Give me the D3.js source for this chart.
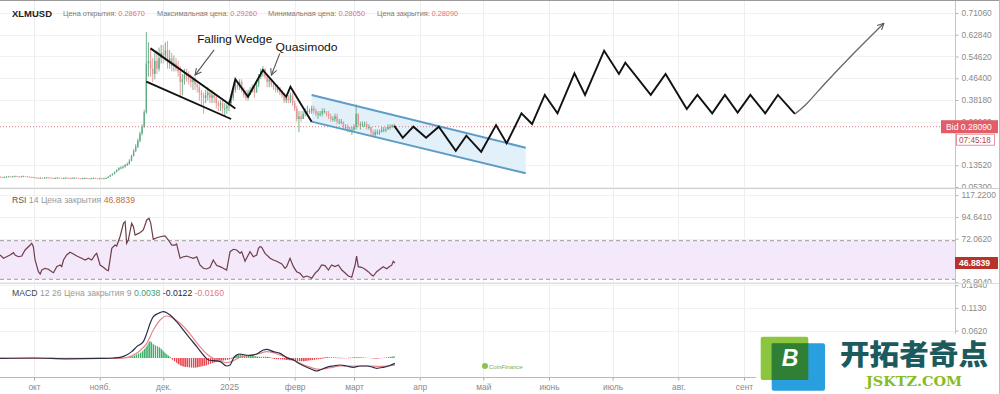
<!DOCTYPE html>
<html>
<head>
<meta charset="utf-8">
<script src="https://cdn.jsdelivr.net/npm/d3@7"></script>
<style>
    body { margin: 0; background: #fff; }
    svg { display: block; font-family: "Liberation Sans", Arial, sans-serif; }
</style>
</head>
<body>
<div id="chart"></div>
<script>
// daily candles [high, low, close], open = previous close
const firstOpen = 0.092;
const sep24 = [[.093,.090,.091],[.092,.089,.090],[.093,.089,.091],[.094,.090,.092],[.095,.091,.093],[.094,.091,.092],[.095,.091,.093],[.096,.092,.094],[.095,.092,.093],[.094,.091,.092],[.095,.091,.093],[.096,.092,.094],[.095,.092,.093],[.094,.091,.092],[.093,.090,.091],[.092,.088,.090]];
const oct24 = [[.091,.087,.089],[.090,.086,.088],[.089,.085,.087],[.090,.086,.088],[.089,.086,.087],[.090,.086,.088],[.091,.087,.089],[.090,.087,.088],[.089,.086,.087],[.088,.085,.086],[.089,.085,.087],[.090,.086,.088],[.089,.086,.087],[.088,.085,.086],[.089,.085,.087],[.090,.086,.088],[.089,.086,.087],[.088,.085,.086],[.089,.085,.087],[.090,.086,.088],[.089,.086,.087],[.088,.085,.086],[.087,.084,.085],[.088,.084,.086],[.089,.085,.087],[.088,.085,.086],[.087,.084,.085],[.088,.084,.086],[.089,.085,.087],[.088,.085,.086],[.087,.084,.085]];
const nov24 = [[.088,.084,.086],[.087,.084,.085],[.088,.084,.086],[.089,.085,.087],[.093,.086,.092],[.099,.091,.098],[.105,.096,.103],[.112,.101,.110],[.120,.108,.117],[.128,.115,.125],[.131,.120,.127],[.134,.122,.130],[.140,.126,.136],[.146,.132,.140],[.158,.137,.152],[.175,.150,.170],[.196,.168,.190],[.215,.185,.205],[.236,.200,.228],[.262,.222,.255],[.290,.248,.280],[.345,.275,.335],[.639,.330,.520],[.600,.470,.530],[.580,.470,.500],[.540,.450,.480],[.560,.460,.530],[.570,.480,.500],[.580,.490,.540],[.590,.520,.560]];
const dec24 = [[.590,.520,.550],[.600,.530,.570],[.605,.500,.520],[.570,.500,.540],[.560,.490,.510],[.550,.490,.520],[.540,.490,.500],[.530,.470,.490],[.510,.390,.450],[.480,.400,.460],[.500,.440,.480],[.500,.450,.470],[.490,.440,.460],[.480,.430,.450],[.470,.420,.460],[.470,.420,.440],[.450,.410,.430],[.440,.380,.410],[.420,.360,.400],[.410,.330,.390],[.420,.370,.400],[.430,.380,.410],[.420,.370,.390],[.420,.370,.400],[.410,.370,.390],[.400,.350,.370],[.380,.340,.360],[.380,.340,.370],[.380,.330,.350],[.370,.320,.350],[.370,.330,.360]];
const jan25 = [[.380,.340,.370],[.400,.360,.390],[.430,.380,.420],[.450,.410,.440],[.450,.420,.430],[.460,.420,.450],[.460,.410,.420],[.430,.390,.400],[.420,.380,.390],[.420,.380,.410],[.430,.400,.420],[.440,.410,.430],[.430,.390,.410],[.450,.410,.440],[.480,.430,.470],[.500,.460,.490],[.510,.470,.500],[.500,.460,.470],[.480,.430,.450],[.470,.430,.460],[.460,.430,.440],[.450,.420,.430],[.440,.410,.420],[.440,.410,.430],[.430,.400,.410],[.420,.390,.400],[.410,.370,.380],[.400,.370,.390],[.400,.370,.380],[.410,.370,.400],[.410,.360,.370]];
const feb25 = [[.380,.340,.350],[.360,.300,.310],[.340,.260,.320],[.340,.300,.310],[.340,.310,.330],[.350,.320,.340],[.360,.320,.340],[.350,.330,.340],[.360,.330,.350],[.360,.330,.340],[.350,.320,.330],[.340,.310,.330],[.340,.320,.330],[.350,.320,.340],[.350,.330,.340],[.340,.320,.330],[.340,.310,.320],[.330,.300,.310],[.320,.300,.310],[.330,.300,.320],[.330,.290,.300],[.310,.290,.300],[.310,.290,.300],[.300,.270,.280],[.290,.270,.280],[.290,.260,.270],[.280,.260,.270],[.280,.250,.270]];
const mar25 = [[.290,.260,.280],[.365,.270,.330],[.330,.280,.290],[.300,.270,.290],[.300,.280,.290],[.300,.280,.290],[.300,.270,.280],[.290,.270,.280],[.280,.250,.260],[.270,.240,.250],[.270,.240,.260],[.270,.250,.260],[.270,.250,.260],[.280,.260,.270],[.280,.260,.270],[.280,.260,.270],[.290,.270,.280],[.290,.270,.280],[.290,.275,.2867],[.2926,.2805,.2809]];

// RSI 14, day offsets from 2024-09-15
const rsiDay = [0,1.6,3.1,4.7,6.3,7.1,8.6,10.2,11.8,14.2,14.9,15.7,16.5,18.1,18.9,19.7,21.2,22.8,24.4,25.2,26.7,28.3,29.1,29.9,31.4,33,34.6,36.2,38.5,40.1,41.7,43.2,44.8,45.6,47.2,48.7,50.3,51.1,52.7,54.2,55,56.6,58.2,59,59.7,60.5,61.3,62.1,62.9,63.7,65.3,66,67.6,69.2,70.3,71.1,72.3,73.9,75.5,77.8,79.4,81,82.5,83.3,84.9,86.5,88.1,89.6,91.2,92.8,94.3,95.9,97.5,99.1,100.6,102.2,103.8,105.3,106.9,108.5,110.1,111.6,113.2,114,115.6,117.1,117.9,119.5,121.1,121.9,122.6,123.4,125,127.4,128.9,130.5,132.9,134.4,135.2,136.8,138.4,139.9,141.5,143.1,144.7,146.2,147,148.6,150.2,151.7,153.3,154.9,156.4,158,159.6,161.2,162.7,164.3,165.9,167.5,168.2,169,170.6,172.2,173.7,175.3,176.1,177.7,179.2,180.8,182.4,184,184.7,185.5,186.3];
const rsiVal = [55.2,51.8,53.4,55.2,57.6,55.2,53.4,54.1,60.4,65.5,67.3,63.8,50.0,37.9,35.5,39.6,41.4,40.4,37.9,36.8,43.1,44.8,43.1,50.0,55.2,58.0,56.2,54.1,51.8,50.0,51.8,50.0,55.2,56.9,44.8,42.4,39.6,38.9,62.1,65.5,64.5,74.1,88.0,89.7,67.3,70.7,79.3,88.0,84.5,75.9,77.6,78.3,81.1,91.5,93.2,88.0,71.4,73.1,74.1,74.9,70.7,65.5,65.5,66.6,51.8,53.4,54.1,52.8,51.8,53.4,44.8,41.4,40.7,42.4,50.0,44.2,43.1,41.4,39.6,58.6,61.1,60.4,57.0,58.6,48.7,55.2,58.6,53.4,55.2,62.1,63.8,63.2,56.9,51.8,50.0,48.7,45.9,41.4,43.1,51.8,43.1,37.9,36.2,32.1,33.4,32.1,31.0,36.2,39.6,44.8,44.2,39.6,44.8,43.1,44.8,39.6,36.8,33.4,32.1,44.8,54.1,43.1,42.4,40.4,37.9,34.5,33.4,37.9,40.4,43.1,41.0,43.8,44.2,48.7,46.9];

// MACD 12 26 9
const macdDay = [0,16,32,47,53.5,56.6,59.7,62.1,64.5,67.6,69.2,70.8,72.3,74.7,77,78.6,80.2,83.3,86.5,89.6,92.8,95.9,98.3,100.6,103.8,106.9,108.5,110.1,111.6,113.2,115.6,117.9,121.1,124.2,125.8,128.9,132.1,135.2,138.4,141.5,144.7,147.8,149.4,150.9,154.1,157.2,160.4,163.5,166.7,169.8,173,176.1,177.7,180.8,183.9,186.3];
const macdVal = [-0.001,0.000,-0.002,-0.001,0.000,0.0015,0.0068,0.0143,0.0256,0.0368,0.0556,0.0782,0.0932,0.1007,0.1045,0.1022,0.0970,0.0819,0.0631,0.0443,0.0256,0.0068,-0.0045,-0.0060,-0.0083,-0.0180,-0.0158,-0.0008,0.0068,0.0090,0.0068,0.0060,0.0090,0.0180,0.0195,0.0143,0.0105,0.0008,-0.0045,-0.0135,-0.0210,-0.0271,-0.0293,-0.0271,-0.0210,-0.0180,-0.0158,-0.0180,-0.0210,-0.0180,-0.0180,-0.0210,-0.0233,-0.0210,-0.0170,-0.0122];
const signalDay = [0,56.6,59.7,62.9,66,69.2,72.3,75.5,78.6,81.8,84.9,88.1,91.2,94.3,97.5,100.6,103.8,106.9,110.1,113.2,116.4,119.5,122.6,125.8,128.9,132.1,135.2,138.4,141.5,144.7,147.8,150.9,154.1,157.2,160.4,166.7,173,179.2,186.3];
const signalVal = [-0.001,-0.001,0.0008,0.0068,0.0165,0.0331,0.0631,0.0857,0.0947,0.0895,0.0782,0.0631,0.0443,0.0256,0.0090,-0.0008,-0.0060,-0.0105,-0.0060,0.0015,0.0045,0.0075,0.0105,0.0143,0.0120,0.0068,0.0015,-0.0045,-0.0120,-0.0180,-0.0233,-0.0256,-0.0233,-0.0210,-0.0180,-0.0180,-0.0180,-0.0190,-0.0160];
const histDay = [0,56.6,62.1,64.5,66.8,69.2,70.8,72.3,73.9,75.5,77,78.6,80.2,81,83.3,85.7,88.1,91.2,94.3,97.5,100.6,103.8,106.9,108.5,110.1,113.2,116.4,119.5,122.6,125.8,127.4,128.9,132.1,135.2,138.4,141.5,144.7,147.8,150.9,154.1,157.2,163.5,166.7,173,177.7,180.8,186.3];
const histVal = [0,0,0.0030,0.0083,0.0135,0.0271,0.0383,0.0308,0.0271,0.0233,0.0158,0.0083,0.0030,-0.0030,-0.0105,-0.0180,-0.0203,-0.0218,-0.0195,-0.0165,-0.0105,-0.0068,-0.0045,-0.0030,0.0030,0.0083,0.0060,0.0045,0.0030,0.0030,0.0015,-0.0015,-0.0030,-0.0045,-0.0060,-0.0075,-0.0060,-0.0045,-0.0023,0.0023,0.0015,-0.0008,0.0015,0.0008,-0.0015,0.0008,0.0038];

// drawn annotations [date, price]
const wedgeUpper = [['2024-11-25', 0.577], ['2025-01-04', 0.350]];
const wedgeLower = [['2024-11-23', 0.451], ['2025-01-02', 0.310]];
const quasimodo = [['2025-01-01', 0.363], ['2025-01-04', 0.460], ['2025-01-10', 0.394], ['2025-01-17', 0.495], ['2025-01-28', 0.394], ['2025-01-30', 0.432], ['2025-02-09', 0.300]];
const channelUpper = [['2025-02-09', 0.4007], ['2025-05-21', 0.2015]];
const channelLower = [['2025-02-09', 0.300], ['2025-05-21', 0.1048]];
const forecast = [['2025-03-20', 0.284], ['2025-03-24', 0.239], ['2025-03-29', 0.281], ['2025-04-04', 0.239], ['2025-04-10', 0.281], ['2025-04-18', 0.190], ['2025-04-23', 0.247], ['2025-04-30', 0.186], ['2025-05-07', 0.287], ['2025-05-12', 0.218], ['2025-05-19', 0.3315], ['2025-05-24', 0.291], ['2025-05-30', 0.401], ['2025-06-05', 0.3315], ['2025-06-13', 0.4827], ['2025-06-18', 0.401], ['2025-06-27', 0.568], ['2025-07-04', 0.480], ['2025-07-07', 0.5228], ['2025-07-19', 0.401], ['2025-07-26', 0.480], ['2025-08-05', 0.3478], ['2025-08-10', 0.401], ['2025-08-17', 0.3315], ['2025-08-23', 0.401], ['2025-08-29', 0.334], ['2025-09-04', 0.401], ['2025-09-11', 0.3315], ['2025-09-17', 0.401], ['2025-09-25', 0.329]];
const forecastArrow = [['2025-09-25', 0.329], ['2025-09-30', 0.363], ['2025-10-10', 0.451], ['2025-10-22', 0.552], ['2025-11-06', 0.672]];
const notes = [
    { text: 'Falling Wedge', date: '2024-12-17', price: 0.597, len: 75, arrow: [['2024-12-25', 0.571], ['2024-12-16', 0.476]] },
    { text: 'Quasimodo', date: '2025-01-23', price: 0.567, len: 62, arrow: [['2025-01-25', 0.558], ['2025-01-21', 0.476]] }
];

// axes (levels hidden under the value tags are left out)
const priceTicks = [0.7106, 0.6284, 0.5462, 0.4640, 0.3818, 0.2996, 0.1352, 0.0530];
const rsiTicks = [117.22, 94.641, 72.062, 26.904];
const macdTicks = [0.1640, 0.1130, 0.0620];
const monthLabels = ['окт', 'нояб.', 'дек.', '2025', 'февр', 'март', 'апр', 'май', 'июнь', 'июль', 'авг.', 'сент'];
const header = [
    ['Цена открытия: ', '0.28670'],
    ['Максимальная цена: ', '0.29260'],
    ['Минимальная цена: ', '0.28050'],
    ['Цена закрытия: ', '0.28090']
];
const lastPrice = 0.28090;
const lastRsi = 46.8839;

const chart = (() => {
    const width = 1000;
    const height = 394;
    const plotRight = 955;
    const parse = d3.timeParse('%Y-%m-%d');
    const start = new Date(2024, 8, 15);
    const dayAt = d => d3.timeHour.offset(start, Math.round(d * 24));

    const x = d3.scaleTime()
        .domain([new Date(2024, 9, 1), new Date(2025, 8, 1)])
        .range([34, 744]);
    const y = d3.scaleLinear().domain([0.053, 0.7106]).range([187, 13]);
    const yRsi = d3.scaleLinear().domain([30, 70]).range([279.3, 240.7]);
    const yMacd = d3.scaleLinear().domain([0, 0.062]).range([358, 330.5]);

    const pt = p => [x(parse(p[0])), y(p[1])];

    const svg = d3.select('#chart')
        .append('svg')
        .attr('width', width)
        .attr('height', height);

    const defs = svg.append('defs');
    [['clipMain', 0, 189], ['clipRsi', 189, 94], ['clipMacd', 284, 93]].forEach(([id, top, h]) => {
        defs.append('clipPath').attr('id', id)
            .append('rect').attr('x', 0).attr('y', top).attr('width', plotRight).attr('height', h);
        defs.append('clipPath').attr('id', id + 'Axis')
            .append('rect').attr('x', plotRight).attr('y', top).attr('width', width - plotRight).attr('height', h);
    });
    defs.append('marker')
        .attr('id', 'arrow')
        .attr('viewBox', '0 0 10 10')
        .attr('refX', 9).attr('refY', 5)
        .attr('markerWidth', 8).attr('markerHeight', 8)
        .attr('markerUnits', 'userSpaceOnUse')
        .attr('orient', 'auto')
        .append('path')
        .attr('d', 'M1,1 L9,5 L1,9')
        .attr('fill', 'none')
        .attr('stroke', '#555')
        .attr('stroke-width', 1.3);
    [['stripeUp', '#3fae6a'], ['stripeDown', '#e8454f']].forEach(([id, color]) => {
        const p = defs.append('pattern').attr('id', id)
            .attr('patternUnits', 'userSpaceOnUse')
            .attr('width', 2.12).attr('height', 10);
        p.append('rect').attr('width', 1.5).attr('height', 10).attr('fill', color);
    });

    // ---------- grid ----------
    const months = d3.timeMonth.range(new Date(2024, 9, 1), new Date(2025, 8, 2));
    svg.append('g')
        .attr('stroke', '#eeeeee')
        .selectAll('line')
        .data(months)
        .join('line')
        .attr('x1', d => Math.round(x(d)) + 0.5)
        .attr('x2', d => Math.round(x(d)) + 0.5)
        .attr('y1', 0)
        .attr('y2', 377);

    const hGrid = (scale, ticks, clip) => svg.append('g')
        .attr('clip-path', `url(#${clip})`)
        .attr('stroke', '#f1f1f1')
        .selectAll('line')
        .data(ticks)
        .join('line')
        .attr('x1', 0).attr('x2', plotRight)
        .attr('y1', d => Math.round(scale(d)) + 0.5)
        .attr('y2', d => Math.round(scale(d)) + 0.5);
    hGrid(y, priceTicks, 'clipMain');
    hGrid(yRsi, rsiTicks, 'clipRsi');
    hGrid(yMacd, macdTicks, 'clipMacd');

    // ---------- main panel ----------
    const main = svg.append('g').attr('clip-path', 'url(#clipMain)');

    const chUp = channelUpper.map(pt);
    const chLo = channelLower.map(pt);
    main.append('path')
        .attr('d', d3.line()([chUp[0], chUp[1], chLo[1], chLo[0]]) + 'Z')
        .attr('fill', '#e2f0fa');

    let prev = firstOpen;
    const candles = [sep24, oct24, nov24, dec24, jan25, feb25, mar25].flat().map((r, i) => {
        const c = { date: d3.timeDay.offset(start, i), o: prev, h: r[0], l: r[1], c: r[2] };
        prev = r[2];
        return c;
    });
    const candle = main.append('g')
        .selectAll('g')
        .data(candles)
        .join('g')
        .attr('stroke', d => d.c >= d.o ? '#62ab84' : '#e69494')
        .attr('fill', d => d.c >= d.o ? '#62ab84' : '#e69494');
    candle.append('line')
        .attr('x1', d => x(d.date))
        .attr('x2', d => x(d.date))
        .attr('y1', d => y(d.h))
        .attr('y2', d => y(d.l))
        .attr('stroke-width', 0.9);
    candle.append('rect')
        .attr('x', d => x(d.date) - 0.7)
        .attr('width', 1.4)
        .attr('y', d => y(Math.max(d.o, d.c)))
        .attr('height', d => Math.max(1, Math.abs(y(d.o) - y(d.c))))
        .attr('stroke', 'none');

    main.append('line')
        .attr('x1', 0).attr('x2', plotRight)
        .attr('y1', y(lastPrice)).attr('y2', y(lastPrice))
        .attr('stroke', '#e07a80')
        .attr('stroke-dasharray', '1,2');

    const line = d3.line();
    [chUp, chLo].forEach(p => main.append('path')
        .attr('d', line(p))
        .attr('fill', 'none')
        .attr('stroke', '#5c9cc6')
        .attr('stroke-width', 2));

    [wedgeUpper, wedgeLower, quasimodo, forecast].forEach(p => main.append('path')
        .attr('d', line(p.map(pt)))
        .attr('fill', 'none')
        .attr('stroke', '#111')
        .attr('stroke-width', 1.9)
        .attr('stroke-linejoin', 'miter'));

    main.append('path')
        .attr('d', d3.line().curve(d3.curveCatmullRom)(forecastArrow.map(pt)))
        .attr('fill', 'none')
        .attr('stroke', '#666')
        .attr('stroke-width', 1.3)
        .attr('marker-end', 'url(#arrow)');

    notes.forEach(n => {
        main.append('text')
            .attr('x', x(parse(n.date)))
            .attr('y', y(n.price))
            .attr('font-size', 11.5)
            .attr('textLength', n.len)
            .attr('lengthAdjust', 'spacingAndGlyphs')
            .attr('fill', '#111')
            .text(n.text);
        main.append('path')
            .attr('d', line(n.arrow.map(pt)))
            .attr('stroke', '#555')
            .attr('stroke-width', 1.1)
            .attr('marker-end', 'url(#arrow)');
    });

    // header
    svg.append('text')
        .attr('x', 12).attr('y', 17)
        .attr('font-size', 9.6).attr('font-weight', 'bold')
        .attr('textLength', 40).attr('lengthAdjust', 'spacingAndGlyphs')
        .attr('fill', '#222')
        .text('XLMUSD');
    const headerX = [63, 157, 268, 377];
    const headerLen = [82, 100, 97, 81];
    header.forEach((h, i) => {
        const t = svg.append('text')
            .attr('x', headerX[i]).attr('y', 16)
            .attr('font-size', 7.5)
            .attr('textLength', headerLen[i]).attr('lengthAdjust', 'spacingAndGlyphs');
        t.append('tspan').attr('fill', '#7a7a7a').text(h[0]);
        t.append('tspan').attr('fill', '#e0707a').text(h[1]);
    });

    // ---------- RSI panel ----------
    const rsi = svg.append('g').attr('clip-path', 'url(#clipRsi)');
    rsi.append('rect')
        .attr('x', 0).attr('width', plotRight)
        .attr('y', yRsi(70)).attr('height', yRsi(30) - yRsi(70))
        .attr('fill', '#f4e8fb');
    [70, 30].forEach(v => rsi.append('line')
        .attr('x1', 0).attr('x2', plotRight)
        .attr('y1', yRsi(v)).attr('y2', yRsi(v))
        .attr('stroke', '#9c9c9c')
        .attr('stroke-dasharray', '4,3'));
    rsi.append('path')
        .attr('d', d3.line().x(d => x(dayAt(d[0]))).y(d => yRsi(d[1]))(d3.zip(rsiDay, rsiVal)))
        .attr('fill', 'none')
        .attr('stroke', '#6e3f46')
        .attr('stroke-width', 1.2);

    const rsiText = svg.append('text')
        .attr('x', 12).attr('y', 203)
        .attr('font-size', 8.5)
        .attr('textLength', 123).attr('lengthAdjust', 'spacingAndGlyphs');
    rsiText.append('tspan').attr('fill', '#555').text('RSI ');
    rsiText.append('tspan').attr('fill', '#9a9a9a').text('14 Цена закрытия ');
    rsiText.append('tspan').attr('fill', '#b8703e').text(lastRsi.toFixed(4));

    // ---------- MACD panel ----------
    const macd = svg.append('g').attr('clip-path', 'url(#clipMacd)');
    const hist = d3.zip(histDay, histVal);
    macd.append('path')
        .attr('d', d3.area().curve(d3.curveMonotoneX)
            .x(d => x(dayAt(d[0]))).y0(yMacd(0)).y1(d => yMacd(Math.max(0, d[1])))(hist))
        .attr('fill', 'url(#stripeUp)');
    macd.append('path')
        .attr('d', d3.area().curve(d3.curveMonotoneX)
            .x(d => x(dayAt(d[0]))).y0(yMacd(0)).y1(d => yMacd(Math.min(0, d[1])))(hist))
        .attr('fill', 'url(#stripeDown)');
    [[signalDay, signalVal, '#e8868c'], [macdDay, macdVal, '#2a2d45']].forEach(([days, vals, color]) => macd.append('path')
        .attr('d', d3.line().curve(d3.curveMonotoneX).x(d => x(dayAt(d[0]))).y(d => yMacd(d[1]))(d3.zip(days, vals)))
        .attr('fill', 'none')
        .attr('stroke', color)
        .attr('stroke-width', 1.2));

    const macdText = svg.append('text')
        .attr('x', 12).attr('y', 296)
        .attr('font-size', 8.5)
        .attr('textLength', 212).attr('lengthAdjust', 'spacingAndGlyphs');
    macdText.append('tspan').attr('fill', '#444').text('MACD ');
    macdText.append('tspan').attr('fill', '#9a9a9a').text('12 26 Цена закрытия 9 ');
    macdText.append('tspan').attr('fill', '#3a9f78').text(histVal[histVal.length - 1].toFixed(4) + ' ');
    macdText.append('tspan').attr('fill', '#222a40').text(macdVal[macdVal.length - 1].toFixed(4) + ' ');
    macdText.append('tspan').attr('fill', '#e07a84').text(signalVal[signalVal.length - 1].toFixed(4));

    // ---------- right axes ----------
    const rightAxis = (scale, ticks, clip, fmt) => {
        const g = svg.append('g')
            .attr('clip-path', `url(#${clip}Axis)`)
            .append('g')
            .attr('transform', `translate(${plotRight + 0.5},0)`)
            .call(d3.axisRight(scale).tickValues(ticks).tickSize(3).tickPadding(3).tickFormat(fmt));
        g.select('.domain').remove();
        g.selectAll('line').attr('stroke', '#b5b5b5');
        g.selectAll('text').attr('fill', '#8a8a8a').attr('font-size', 8.4)
            .attr('font-family', '"Liberation Sans", Arial, sans-serif');
        return g;
    };
    rightAxis(y, priceTicks, 'clipMain', d => d.toFixed(5));
    rightAxis(yRsi, rsiTicks, 'clipRsi', d => d.toFixed(4));
    rightAxis(yMacd, macdTicks, 'clipMacd', d => d.toFixed(4));

    svg.append('line')
        .attr('x1', plotRight + 0.5).attr('x2', plotRight + 0.5)
        .attr('y1', 0).attr('y2', 377)
        .attr('stroke', '#c4c4c4');

    // last price labels
    const bid = svg.append('g').attr('transform', `translate(0,${y(lastPrice)})`);
    bid.append('rect')
        .attr('x', 941).attr('y', -6.5).attr('width', 57).attr('height', 13)
        .attr('fill', '#e25d68');
    bid.append('text')
        .attr('x', 946).attr('y', 3.2)
        .attr('font-size', 8.6).attr('fill', '#fff')
        .text('Bid ' + lastPrice.toFixed(5));
    bid.append('rect')
        .attr('x', 956.5).attr('y', 7.5).attr('width', 38).attr('height', 11)
        .attr('fill', '#fff').attr('stroke', '#e27a82').attr('stroke-width', 0.8);
    bid.append('text')
        .attr('x', 959).attr('y', 16)
        .attr('font-size', 8.2).attr('fill', '#b04a52')
        .text('07:45:18');

    const rsiTag = svg.append('g').attr('transform', `translate(0,${yRsi(lastRsi)})`);
    rsiTag.append('rect')
        .attr('x', 955).attr('y', -6).attr('width', 43).attr('height', 12)
        .attr('fill', '#b8322a');
    rsiTag.append('text')
        .attr('x', 959).attr('y', 3)
        .attr('font-size', 8.6).attr('font-weight', 'bold').attr('fill', '#fff')
        .text(lastRsi.toFixed(4));

    // ---------- time axis ----------
    const xAxis = svg.append('g')
        .attr('transform', 'translate(0,377.5)')
        .call(d3.axisBottom(x).tickValues(months).tickSize(3).tickPadding(4)
            .tickFormat((d, i) => monthLabels[i]));
    xAxis.select('.domain').remove();
    xAxis.selectAll('line').attr('stroke', '#a8a8a8');
    xAxis.selectAll('text').attr('fill', '#8a8a8a').attr('font-size', 8.4)
        .attr('font-family', '"Liberation Sans", Arial, sans-serif');

    // panel borders
    [[0.5, '#9a9a9a'], [188.5, '#cfcfcf'], [283.5, '#dcdcdc'], [377.5, '#b8b8b8']].forEach(([yy, c]) => svg.append('line')
        .attr('x1', 0).attr('x2', width)
        .attr('y1', yy).attr('y2', yy)
        .attr('stroke', c));
    svg.append('line')
        .attr('x1', 999.5).attr('x2', 999.5).attr('y1', 0).attr('y2', height)
        .attr('stroke', '#bdbdbd');

    // small watermark
    const wm = svg.append('g');
    wm.append('circle').attr('cx', 485).attr('cy', 366).attr('r', 3).attr('fill', '#8bc34a');
    wm.append('text')
        .attr('x', 489).attr('y', 368.5)
        .attr('font-size', 6).attr('font-style', 'italic').attr('fill', '#7cad4a')
        .text('CoinFinance');

    // logo
    const logo = svg.append('g');
    logo.append('rect').attr('x', 756).attr('y', 334).attr('width', 243).attr('height', 60).attr('fill', '#fff');
    logo.append('rect').attr('x', 760.7).attr('y', 336.7).attr('width', 47.6).attr('height', 43.3).attr('rx', 2).attr('fill', '#8cc63f');
    logo.append('rect').attr('x', 771.7).attr('y', 343.3).attr('width', 53.3).attr('height', 47.4).attr('rx', 2).attr('fill', '#2a9fe0');
    logo.append('rect').attr('x', 771.7).attr('y', 343.3).attr('width', 36.6).attr('height', 36.7).attr('fill', '#2f7f35');
    logo.append('text')
        .attr('x', 790).attr('y', 365.5)
        .attr('text-anchor', 'middle')
        .attr('font-size', 23).attr('font-weight', 'bold').attr('font-style', 'italic')
        .attr('fill', '#fff')
        .text('B');
    logo.append('text')
        .attr('x', 840).attr('y', 365)
        .attr('font-family', '"Noto Sans CJK SC", sans-serif')
        .attr('font-size', 28).attr('font-weight', 900)
        .attr('textLength', 148).attr('lengthAdjust', 'spacingAndGlyphs')
        .attr('fill', '#1d5a5d')
        .text('开拓者奇点');
    logo.append('text')
        .attr('x', 866).attr('y', 386)
        .attr('font-family', '"DejaVu Serif", serif')
        .attr('font-size', 12.5).attr('font-weight', 'bold')
        .attr('textLength', 96).attr('lengthAdjust', 'spacingAndGlyphs')
        .attr('fill', '#86bc25')
        .text('JSKTZ.COM');

    return svg.node();
})();
</script>
</body>
</html>
